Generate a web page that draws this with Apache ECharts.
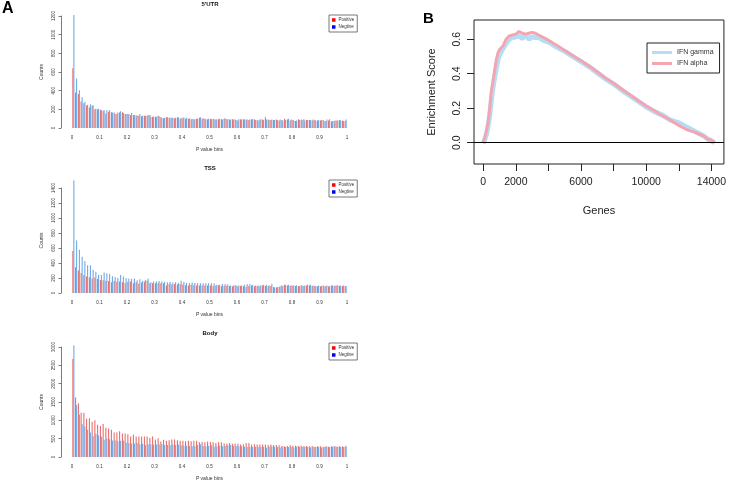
<!DOCTYPE html>
<html><head><meta charset="utf-8">
<script src="https://cdn.jsdelivr.net/npm/echarts@6/dist/echarts.min.js"></script>
<style>html,body{margin:0;padding:0;background:#fff}#c{width:729px;height:482px}</style>
</head><body><div id="c"></div>
<script>
// ---------- Panel A data (100 p-value bins of width 0.01) ----------
const pTicks = [0, 0.1, 0.2, 0.3, 0.4, 0.5, 0.6, 0.7, 0.8, 0.9, 1];
const utrPositive = [640,380,365,285,265,240,220,240,200,200, 195,185,155,175,170,165,150,165,170,150, 150,140,140,135,130,125,130,130,140,120, 120,130,115,105,115,110,110,105,115,100, 105,100,100,95,95,100,110,100,100,95, 100,100,90,95,95,100,95,90,95,90, 80,95,95,90,85,95,95,85,90,90, 115,90,85,85,90,80,85,100,90,80, 85,75,95,90,95,85,85,80,85,80, 80,85,75,80,70,75,80,85,80,75];
const utrNegtive = [1210,530,405,330,280,250,255,245,205,205, 190,190,190,190,165,150,165,180,160,150, 150,160,140,135,150,130,130,140,120,120, 120,125,110,110,115,110,110,110,115,110, 115,110,105,100,95,100,115,105,95,100, 95,95,95,100,90,105,95,90,90,85, 95,90,90,90,90,95,85,80,90,85, 90,85,90,85,85,90,80,85,100,90, 80,80,85,85,80,85,85,90,80,85, 85,75,90,95,75,80,80,80,75,90];
const tssPositive = [560,345,300,268,240,220,210,192,208,188, 175,170,165,160,145,160,150,155,145,135, 150,155,130,145,125,140,150,165,130,130, 130,130,130,130,100,125,115,120,115,120, 115,105,100,110,105,100,100,100,100,100, 100,95,100,105,90,95,100,95,90,100, 90,95,90,85,95,100,90,95,90,100, 95,90,95,80,75,80,100,110,100,95, 100,95,90,100,95,100,105,95,95,90, 90,100,95,90,100,95,100,95,95,95];
const tssNegtive = [1500,700,578,484,427,370,370,310,285,245, 240,275,265,255,225,215,200,240,220,200, 195,190,195,170,185,165,175,195,145,155, 155,160,155,150,145,150,140,145,135,165, 150,135,135,140,135,135,130,130,130,130, 130,130,110,110,120,120,115,100,100,105, 100,100,110,120,120,110,100,100,105,110, 110,105,125,75,80,90,95,110,110,105, 100,105,95,100,100,115,110,100,95,100, 95,90,100,90,105,100,105,100,100,95];
const bodyPositive = [2670,1625,1465,1205,1205,1045,1060,960,1000,880, 845,900,800,775,745,665,665,700,640,640, 620,560,610,560,560,560,560,560,520,560, 480,510,420,470,440,460,480,480,460,440, 440,430,440,430,440,440,400,410,400,420, 410,400,380,400,400,370,370,380,360,370, 360,340,350,380,380,340,350,340,340,340, 340,330,340,330,330,320,300,290,300,320, 310,310,300,310,290,300,290,300,280,290, 290,280,290,280,290,290,280,290,290,280];
const bodyNegtive = [3050,1410,1150,890,830,740,665,575,630,585, 555,470,505,485,450,460,430,440,450,395, 380,370,370,380,345,360,325,345,350,335, 340,350,350,330,330,320,340,330,340,320, 310,310,300,290,300,330,350,300,290,300, 320,280,290,310,290,300,320,330,310,300, 290,290,280,270,270,270,280,270,270,280, 250,280,290,280,270,260,280,270,270,280, 260,280,270,280,270,270,260,280,270,270, 260,270,280,270,280,290,280,270,270,310];
const utrTicks = [0, 200, 400, 600, 800, 1000, 1200];
const tssTicks = [0, 200, 400, 600, 800, 1000, 1200, 1400];
const bodyTicks = [0, 500, 1000, 1500, 2000, 2500, 3000];

// ---------- Panel B data ----------
const genes = [0,100,200,300,400,500,600,700,800,900,1000,1200,1400,1600,1800,2000,2200,2400,2600,2800,3000,3200,3400,3600,3800,4000,4500,5000,5500,6000,6500,7000,7500,8000,8500,9000,9500,10000,10500,11000,11500,12000,12500,13000,13500,13800,14000,14200];
const ifnAlpha = [0,0.03,0.07,0.12,0.2,0.3,0.36,0.42,0.48,0.52,0.54,0.56,0.6,0.62,0.625,0.63,0.645,0.635,0.63,0.635,0.64,0.635,0.625,0.615,0.605,0.595,0.565,0.535,0.505,0.475,0.445,0.41,0.375,0.345,0.31,0.278,0.245,0.213,0.185,0.155,0.13,0.1,0.075,0.06,0.04,0.02,0.015,0];
const ifnGamma = [-0.005,0.02,0.05,0.1,0.16,0.25,0.32,0.38,0.43,0.48,0.51,0.545,0.575,0.6,0.61,0.615,0.62,0.605,0.625,0.6,0.615,0.61,0.61,0.6,0.59,0.585,0.555,0.53,0.5,0.47,0.44,0.405,0.37,0.34,0.305,0.272,0.24,0.208,0.18,0.16,0.13,0.115,0.09,0.065,0.04,0.02,0.01,0];
const geneTicks = [0,2000,4000,6000,8000,10000,12000,14000];
const geneLabels = [0,2000,6000,10000,14000];
const esTicks = [0,0.2,0.4,0.6];

const bins = utrPositive.map((_, i) => String(i + 1));
const FONT = 'Liberation Sans';
const RED = '#e3605f', BLUE = '#62a3e3';

const panels = [
  {title: "5'UTR", pos: utrPositive, neg: utrNegtive, ticks: utrTicks, top: 16, h: 112, titleTop: 1, legTop: 15},
  {title: 'TSS', pos: tssPositive, neg: tssNegtive, ticks: tssTicks, top: 188, h: 105, titleTop: 165, legTop: 180},
  {title: 'Body', pos: bodyPositive, neg: bodyNegtive, ticks: bodyTicks, top: 347, h: 111, titleTop: 330, legTop: 343}
];

const grid = [], xAxis = [], yAxis = [], series = [], title = [], legend = [];
title.push({text: 'A', left: 2, top: 1, padding: 0, textStyle: {fontFamily: FONT, fontSize: 16, fontWeight: 'bold', color: '#000'}});
title.push({text: 'B', left: 423, top: 11, padding: 0, textStyle: {fontFamily: FONT, fontSize: 15, fontWeight: 'bold', color: '#000'}});

panels.forEach((p, k) => {
  grid.push({left: 72, width: 275, top: p.top, height: p.h});
  title.push({text: p.title, left: 210, textAlign: 'center', top: p.titleTop, padding: 0,
    textStyle: {fontFamily: FONT, fontSize: 6, fontWeight: 'bold', color: '#111'}});
  xAxis.push({type: 'category', gridIndex: k, position: 'bottom', data: bins, show: false});
  xAxis.push({type: 'value', gridIndex: k, position: 'bottom', min: 0, max: 1, interval: 0.1,
    axisLine: {show: false, onZero: false}, axisTick: {show: false}, splitLine: {show: false},
    axisLabel: {fontFamily: FONT, fontSize: 4.5, color: '#333', margin: 7, formatter: v => String(+v.toFixed(1))},
    name: 'P value bins', nameLocation: 'middle', nameGap: 19,
    nameTextStyle: {fontFamily: FONT, fontSize: 5, color: '#333'}});
  const mx = p.ticks[p.ticks.length - 1];
  yAxis.push({type: 'value', gridIndex: k, min: 0, max: mx, interval: p.ticks[1], offset: 11,
    axisLine: {show: true, onZero: false, lineStyle: {color: '#444', width: 0.7}},
    axisTick: {show: true, length: 2.5, lineStyle: {color: '#444', width: 0.7}},
    splitLine: {show: false},
    axisLabel: {rotate: 90, fontFamily: FONT, fontSize: 4.5, color: '#333', margin: 5, formatter: v => String(v)},
    name: 'Counts', nameLocation: 'middle', nameGap: 17,
    nameTextStyle: {fontFamily: FONT, fontSize: 5, color: '#333'}});
  series.push({type: 'bar', name: 'Positive', xAxisIndex: 2 * k, yAxisIndex: k, data: p.pos,
    barGap: '0%', barCategoryGap: '30%', clip: false, itemStyle: {color: RED}});
  series.push({type: 'bar', name: 'Negtive', xAxisIndex: 2 * k, yAxisIndex: k, data: p.neg,
    barGap: '0%', barCategoryGap: '30%', clip: false, itemStyle: {color: BLUE}});
  legend.push({left: 329, top: p.legTop, orient: 'vertical', icon: 'rect', itemWidth: 3.5, itemHeight: 3.5,
    itemGap: 2, padding: [2.5, 3, 2.5, 3], borderColor: '#555', borderWidth: 0.8, selectedMode: false,
    textStyle: {fontFamily: FONT, fontSize: 4.5, color: '#333', padding: [0, 0, 0, -2]},
    data: [{name: 'Positive', itemStyle: {color: '#ff0000'}}, {name: 'Negtive', itemStyle: {color: '#0000ff'}}]});
});

// Panel B
grid.push({left: 474, right: 4, top: 20, height: 144, show: true, borderColor: '#222', borderWidth: 1});
xAxis.push({type: 'value', gridIndex: 3, position: 'bottom', min: -568, max: 14768,
  axisLine: {show: false, onZero: false}, splitLine: {show: false},
  axisTick: {show: true, length: 7, customValues: geneTicks, lineStyle: {color: '#222'}},
  axisLabel: {customValues: geneLabels, fontFamily: FONT, fontSize: 10.5, color: '#222', margin: 13, formatter: v => String(v)},
  name: 'Genes', nameLocation: 'middle', nameGap: 41,
  nameTextStyle: {fontFamily: FONT, fontSize: 11, color: '#222'}});
yAxis.push({type: 'value', gridIndex: 3, position: 'left', min: -0.124, max: 0.712,
  axisLine: {show: false, onZero: false}, splitLine: {show: false},
  axisTick: {show: true, length: 7, customValues: esTicks, lineStyle: {color: '#222'}},
  axisLabel: {customValues: esTicks, rotate: 90, fontFamily: FONT, fontSize: 10.5, color: '#222', margin: 11,
    formatter: v => v.toFixed(1)},
  name: 'Enrichment Score', nameLocation: 'middle', nameGap: 37,
  nameTextStyle: {fontFamily: FONT, fontSize: 11, color: '#222'}});
series.push({type: 'line', name: 'IFN gamma', xAxisIndex: 6, yAxisIndex: 3,
  data: genes.map((g, i) => [g, ifnGamma[i]]), showSymbol: false, symbol: 'none',
  lineStyle: {color: '#b5def5', width: 5}, itemStyle: {color: '#b5def5'}});
series.push({type: 'line', name: 'IFN alpha', xAxisIndex: 6, yAxisIndex: 3,
  data: genes.map((g, i) => [g, ifnAlpha[i]]), showSymbol: false, symbol: 'none',
  lineStyle: {color: '#f4a5b1', width: 3}, itemStyle: {color: '#f4a5b1'},
  markLine: {silent: true, symbol: 'none', label: {show: false}, lineStyle: {color: '#000', width: 1, type: 'solid'},
    data: [{yAxis: 0}]}});
legend.push({left: 647, top: 43, orient: 'vertical', icon: 'rect', itemWidth: 20, itemHeight: 3,
  itemGap: 4, padding: [6, 6, 6, 5], borderColor: '#222', borderWidth: 1, selectedMode: false,
  textStyle: {fontFamily: FONT, fontSize: 7, color: '#333'},
  data: ['IFN gamma', 'IFN alpha']});

const chart = echarts.init(document.getElementById('c'), null, {renderer: 'canvas'});
chart.setOption({animation: false, backgroundColor: '#fff', title, legend, grid, xAxis, yAxis, series});
</script></body></html>
